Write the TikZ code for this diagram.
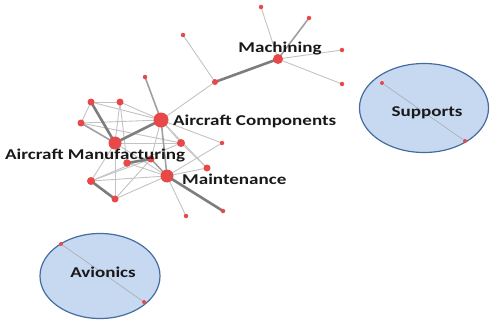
\documentclass[tikz,border=0pt]{standalone}
\usepackage{fontspec}
\usepackage{tikz}
\usetikzlibrary{shapes.geometric,backgrounds}
\newfontfamily\lblfont[FakeStretch=1.27]{Carlito}
\definecolor{nodered}{RGB}{232,72,72}
\definecolor{edgelight}{RGB}{195,195,195}
\definecolor{edgemid}{RGB}{160,160,160}
\definecolor{edgedark}{RGB}{125,125,125}
\definecolor{cloudfill}{RGB}{198,217,241}
\definecolor{cloudline}{RGB}{68,108,160}

\begin{document}
\begin{tikzpicture}[x=1pt,y=-1pt,
  vtx/.style={circle,fill=nodered,inner sep=0pt,minimum size=#1},
  lbl/.style={font=\lblfont\fontsize{15}{18}\selectfont\bfseries,text=black!90,inner sep=0pt},
  cloud/.style={ellipse,draw=cloudline,line width=1.2pt,fill=cloudfill,inner sep=0pt}]
\useasboundingbox (0,0) rectangle (493,324);
\foreach \n/\x/\y/\s in {mach/278/59/10, mtop/261/7/4.5, mtr/309/18/4.5, mr1/342/50/4.5,
  mr2/342/84/4.5, hub/215/82/6, hubtop/183/35/4.5, ac/161/120/15, act/145/77/4.5,
  a1/91/102/7, a2/120/102/7, a3/81/123/7, am/115/143/13, b1/181/143/8, b2/222/143/4.5,
  b3/127/163/7.5, b4/151/159/7, b5/207/168/7, mt/167/176/13, c1/91/181/8, c2/115/199/7,
  c3/186/216/4.5, c4/223/211/4.5, s1/382/83/4, s2/465/141/4, v1/61/244/4, v2/144/302/4}
  \node[vtx=\s pt] (\n) at (\x,\y) {};
\begin{pgfonlayer}{background}
\node[cloud,minimum width=129pt,minimum height=89pt] (supports) at (424,108) {};
\node[cloud,minimum width=120pt,minimum height=85pt] (avionics) at (100,276) {};
\foreach \a/\b in {mach/mtop, mach/mr1, mach/mr2, hubtop/hub, hub/ac, a1/a2, a1/a3, a1/ac,
  a2/ac, a2/b3, a3/ac, am/b1, am/mt, am/c1, am/c2, ac/b1, ac/b2, ac/b4, ac/b5, b3/mt,
  mt/b5, mt/b2, mt/c3, mt/c1, mt/c2, c1/b4, c2/b4, b1/b5, a2/am, a3/b1, c1/b1}
  \draw[edgelight,line width=0.9pt] (\a.center) -- (\b.center);
\foreach \a/\b in {mach/mtr, act/ac, a3/am, b4/mt, ac/mt}
  \draw[edgemid,line width=1.6pt] (\a.center) -- (\b.center);
\foreach \a/\b in {hub/mach, a1/am, am/ac, b3/b4, c1/c2, mt/c4}
  \draw[edgedark,line width=2.6pt] (\a.center) -- (\b.center);
\draw[gray!70,line width=0.5pt] (s1) -- (s2);
\draw[gray!70,line width=0.5pt] (v1) -- (v2);
\end{pgfonlayer}
\node[lbl,anchor=base] (machlbl) at (280,52.5) {Machining};
\node[lbl,anchor=base west] (aclbl) at (173,125) {Aircraft Components};
\node[lbl,anchor=base west] (amlbl) at (5,159) {Aircraft Manufacturing};
\node[lbl,anchor=base west] (mtlbl) at (182,184) {Maintenance};
\node[lbl,anchor=base] (suplbl) at (427,116) {Supports};
\node[lbl,anchor=base] (avlbl) at (103,277) {Avionics};
\end{tikzpicture}
\end{document}
